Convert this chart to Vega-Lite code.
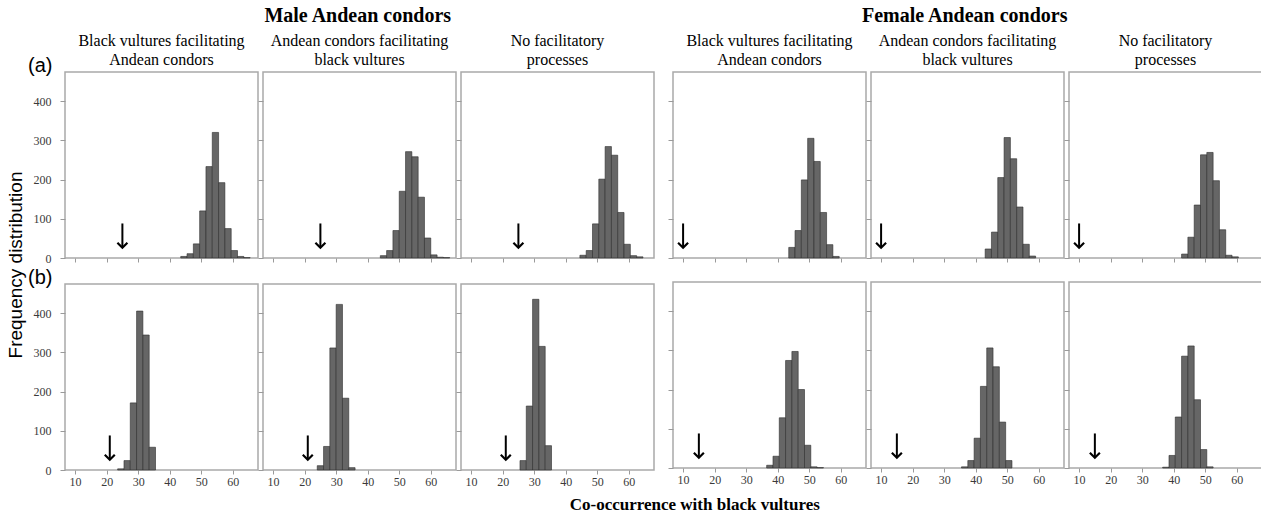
{
  "$schema": "https://vega.github.io/schema/vega-lite/v6.json",
  "background": "white",
  "padding": {"left": 6, "top": 6, "right": 0, "bottom": 0},
  "title": {"text": "Co-occurrence with black vultures", "orient": "bottom", "font": "Liberation Serif", "fontSize": 17, "fontWeight": "bold", "color": "black", "anchor": "middle", "dx": 60, "offset": 9},
  "spacing": 11,
  "datasets": {
    "hist": [
      {"panel": "a1", "x0": 43.5, "x1": 45.5, "count": 4},
      {"panel": "a1", "x0": 45.5, "x1": 47.5, "count": 11},
      {"panel": "a1", "x0": 47.5, "x1": 49.5, "count": 36},
      {"panel": "a1", "x0": 49.5, "x1": 51.5, "count": 120},
      {"panel": "a1", "x0": 51.5, "x1": 53.5, "count": 233},
      {"panel": "a1", "x0": 53.5, "x1": 55.5, "count": 320},
      {"panel": "a1", "x0": 55.5, "x1": 57.5, "count": 192},
      {"panel": "a1", "x0": 57.5, "x1": 59.5, "count": 75},
      {"panel": "a1", "x0": 59.5, "x1": 61.5, "count": 19},
      {"panel": "a1", "x0": 61.5, "x1": 63.5, "count": 4},
      {"panel": "a1", "x0": 63.5, "x1": 65.5, "count": 1},
      {"panel": "a2", "x0": 44, "x1": 46, "count": 6},
      {"panel": "a2", "x0": 46, "x1": 48, "count": 19},
      {"panel": "a2", "x0": 48, "x1": 50, "count": 70},
      {"panel": "a2", "x0": 50, "x1": 52, "count": 170},
      {"panel": "a2", "x0": 52, "x1": 54, "count": 271},
      {"panel": "a2", "x0": 54, "x1": 56, "count": 258},
      {"panel": "a2", "x0": 56, "x1": 58, "count": 155},
      {"panel": "a2", "x0": 58, "x1": 60, "count": 51},
      {"panel": "a2", "x0": 60, "x1": 62, "count": 8},
      {"panel": "a2", "x0": 62, "x1": 64, "count": 2},
      {"panel": "a2", "x0": 64, "x1": 66, "count": 1},
      {"panel": "a3", "x0": 44.5, "x1": 46.5, "count": 7},
      {"panel": "a3", "x0": 46.5, "x1": 48.5, "count": 19},
      {"panel": "a3", "x0": 48.5, "x1": 50.5, "count": 87},
      {"panel": "a3", "x0": 50.5, "x1": 52.5, "count": 201},
      {"panel": "a3", "x0": 52.5, "x1": 54.5, "count": 284},
      {"panel": "a3", "x0": 54.5, "x1": 56.5, "count": 262},
      {"panel": "a3", "x0": 56.5, "x1": 58.5, "count": 116},
      {"panel": "a3", "x0": 58.5, "x1": 60.5, "count": 35},
      {"panel": "a3", "x0": 60.5, "x1": 62.5, "count": 6},
      {"panel": "a3", "x0": 62.5, "x1": 64.5, "count": 3},
      {"panel": "a4", "x0": 43.5, "x1": 45.5, "count": 27},
      {"panel": "a4", "x0": 45.5, "x1": 47.5, "count": 70},
      {"panel": "a4", "x0": 47.5, "x1": 49.5, "count": 199},
      {"panel": "a4", "x0": 49.5, "x1": 51.5, "count": 305},
      {"panel": "a4", "x0": 51.5, "x1": 53.5, "count": 246},
      {"panel": "a4", "x0": 53.5, "x1": 55.5, "count": 116},
      {"panel": "a4", "x0": 55.5, "x1": 57.5, "count": 34},
      {"panel": "a4", "x0": 57.5, "x1": 59.5, "count": 4},
      {"panel": "a5", "x0": 43, "x1": 45, "count": 23},
      {"panel": "a5", "x0": 45, "x1": 47, "count": 66},
      {"panel": "a5", "x0": 47, "x1": 49, "count": 205},
      {"panel": "a5", "x0": 49, "x1": 51, "count": 307},
      {"panel": "a5", "x0": 51, "x1": 53, "count": 253},
      {"panel": "a5", "x0": 53, "x1": 55, "count": 130},
      {"panel": "a5", "x0": 55, "x1": 57, "count": 35},
      {"panel": "a5", "x0": 57, "x1": 59, "count": 5},
      {"panel": "a6", "x0": 42.5, "x1": 44.5, "count": 10},
      {"panel": "a6", "x0": 44.5, "x1": 46.5, "count": 53},
      {"panel": "a6", "x0": 46.5, "x1": 48.5, "count": 135},
      {"panel": "a6", "x0": 48.5, "x1": 50.5, "count": 263},
      {"panel": "a6", "x0": 50.5, "x1": 52.5, "count": 269},
      {"panel": "a6", "x0": 52.5, "x1": 54.5, "count": 197},
      {"panel": "a6", "x0": 54.5, "x1": 56.5, "count": 72},
      {"panel": "a6", "x0": 56.5, "x1": 58.5, "count": 7},
      {"panel": "a6", "x0": 58.5, "x1": 60.5, "count": 3},
      {"panel": "b1", "x0": 23.5, "x1": 25.5, "count": 3},
      {"panel": "b1", "x0": 25.5, "x1": 27.5, "count": 24},
      {"panel": "b1", "x0": 27.5, "x1": 29.5, "count": 171},
      {"panel": "b1", "x0": 29.5, "x1": 31.5, "count": 405},
      {"panel": "b1", "x0": 31.5, "x1": 33.5, "count": 344},
      {"panel": "b1", "x0": 33.5, "x1": 35.5, "count": 58},
      {"panel": "b2", "x0": 24, "x1": 26, "count": 11},
      {"panel": "b2", "x0": 26, "x1": 28, "count": 60},
      {"panel": "b2", "x0": 28, "x1": 30, "count": 311},
      {"panel": "b2", "x0": 30, "x1": 32, "count": 422},
      {"panel": "b2", "x0": 32, "x1": 34, "count": 183},
      {"panel": "b2", "x0": 34, "x1": 36, "count": 6},
      {"panel": "b3", "x0": 25.5, "x1": 27.5, "count": 24},
      {"panel": "b3", "x0": 27.5, "x1": 29.5, "count": 163},
      {"panel": "b3", "x0": 29.5, "x1": 31.5, "count": 435},
      {"panel": "b3", "x0": 31.5, "x1": 33.5, "count": 315},
      {"panel": "b3", "x0": 33.5, "x1": 35.5, "count": 62},
      {"panel": "b4", "x0": 36.5, "x1": 38.5, "count": 7},
      {"panel": "b4", "x0": 38.5, "x1": 40.5, "count": 30},
      {"panel": "b4", "x0": 40.5, "x1": 42.5, "count": 128},
      {"panel": "b4", "x0": 42.5, "x1": 44.5, "count": 274},
      {"panel": "b4", "x0": 44.5, "x1": 46.5, "count": 297},
      {"panel": "b4", "x0": 46.5, "x1": 48.5, "count": 200},
      {"panel": "b4", "x0": 48.5, "x1": 50.5, "count": 58},
      {"panel": "b4", "x0": 50.5, "x1": 52.5, "count": 3},
      {"panel": "b4", "x0": 52.5, "x1": 54.5, "count": 1},
      {"panel": "b5", "x0": 35.5, "x1": 37.5, "count": 3},
      {"panel": "b5", "x0": 37.5, "x1": 39.5, "count": 19},
      {"panel": "b5", "x0": 39.5, "x1": 41.5, "count": 76},
      {"panel": "b5", "x0": 41.5, "x1": 43.5, "count": 208},
      {"panel": "b5", "x0": 43.5, "x1": 45.5, "count": 306},
      {"panel": "b5", "x0": 45.5, "x1": 47.5, "count": 258},
      {"panel": "b5", "x0": 47.5, "x1": 49.5, "count": 117},
      {"panel": "b5", "x0": 49.5, "x1": 51.5, "count": 19},
      {"panel": "b6", "x0": 36.5, "x1": 38.5, "count": 2},
      {"panel": "b6", "x0": 38.5, "x1": 40.5, "count": 32},
      {"panel": "b6", "x0": 40.5, "x1": 42.5, "count": 130},
      {"panel": "b6", "x0": 42.5, "x1": 44.5, "count": 285},
      {"panel": "b6", "x0": 44.5, "x1": 46.5, "count": 311},
      {"panel": "b6", "x0": 46.5, "x1": 48.5, "count": 174},
      {"panel": "b6", "x0": 48.5, "x1": 50.5, "count": 47},
      {"panel": "b6", "x0": 50.5, "x1": 52.5, "count": 3}
    ],
    "arrows": [
      {"panel": "a1", "observed": 25},
      {"panel": "a2", "observed": 25},
      {"panel": "a3", "observed": 25},
      {"panel": "a4", "observed": 10},
      {"panel": "a5", "observed": 10},
      {"panel": "a6", "observed": 10},
      {"panel": "b1", "observed": 21},
      {"panel": "b2", "observed": 21},
      {"panel": "b3", "observed": 21},
      {"panel": "b4", "observed": 15},
      {"panel": "b5", "observed": 15},
      {"panel": "b6", "observed": 15}
    ]
  },
  "hconcat": [
    {
      "title": {"text": "Frequency distribution", "orient": "left", "font": "Liberation Sans", "fontSize": 19, "fontWeight": "normal", "color": "black", "anchor": "middle", "offset": 1, "dx": -18},
      "hconcat": [
        {
          "title": {"text": "Male Andean condors", "font": "Liberation Serif", "fontSize": 20, "fontWeight": "bold", "anchor": "middle", "offset": 6, "dx": 17},
          "spacing": 1,
          "vconcat": [
            {
              "spacing": -3,
              "hconcat": [
                {
                  "width": 193, "height": 186,
                  "title": {"text": ["Black vultures facilitating", "Andean condors"], "dy": 17},
                  "layer": [
                    {"data": {"name": "hist"}, "transform": [{"filter": "datum.panel === 'a1'"}], "mark": {"type": "bar", "fill": "#666666", "stroke": "#2e2e2e", "strokeWidth": 0.6},
                     "encoding": {
                       "x": {"field": "x0", "type": "quantitative", "scale": {"domain": [6.8, 68], "nice": false, "zero": false}, "axis": {"values": [10, 20, 30, 40, 50, 60], "title": null, "labels": false}},
                       "x2": {"field": "x1"},
                       "y": {"field": "count", "type": "quantitative", "scale": {"domain": [0, 474], "nice": false}, "axis": {"values": [0, 100, 200, 300, 400], "labels": true, "title": "(a)", "titleAngle": 0, "titleAlign": "right", "titleBaseline": "alphabetic", "titleX": -13, "titleY": -1, "titleFont": "Liberation Sans", "titleFontSize": 20, "titleFontWeight": "normal", "titleColor": "black"}},
                       "y2": {"datum": 0}
                     }},
                    {"data": {"name": "arrows"}, "transform": [{"filter": "datum.panel === 'a1'"}], "mark": {"type": "rule", "strokeWidth": 2, "color": "black"},
                     "encoding": {"x": {"field": "observed", "type": "quantitative", "axis": {"values": [10, 20, 30, 40, 50, 60], "title": null, "labels": false}}, "y": {"datum": 88}, "y2": {"datum": 27}}},
                    {"data": {"name": "arrows"}, "transform": [{"filter": "datum.panel === 'a1'"}], "mark": {"type": "point", "shape": "M-1,-1L0,0L1,-1", "size": 100, "filled": false, "stroke": "black", "strokeWidth": 2.2, "opacity": 1},
                     "encoding": {"x": {"field": "observed", "type": "quantitative", "axis": {"values": [10, 20, 30, 40, 50, 60], "title": null, "labels": false}}, "y": {"datum": 26}}}
                  ]
                },
                {
                  "width": 193, "height": 186,
                  "title": {"text": ["Andean condors facilitating", "black vultures"]},
                  "layer": [
                    {"data": {"name": "hist"}, "transform": [{"filter": "datum.panel === 'a2'"}], "mark": {"type": "bar", "fill": "#666666", "stroke": "#2e2e2e", "strokeWidth": 0.6},
                     "encoding": {
                       "x": {"field": "x0", "type": "quantitative", "scale": {"domain": [6.8, 68], "nice": false, "zero": false}, "axis": {"values": [10, 20, 30, 40, 50, 60], "title": null, "labels": false}},
                       "x2": {"field": "x1"},
                       "y": {"field": "count", "type": "quantitative", "scale": {"domain": [0, 474], "nice": false}, "axis": {"values": [0, 100, 200, 300, 400], "labels": false, "title": null}},
                       "y2": {"datum": 0}
                     }},
                    {"data": {"name": "arrows"}, "transform": [{"filter": "datum.panel === 'a2'"}], "mark": {"type": "rule", "strokeWidth": 2, "color": "black"},
                     "encoding": {"x": {"field": "observed", "type": "quantitative", "axis": {"values": [10, 20, 30, 40, 50, 60], "title": null, "labels": false}}, "y": {"datum": 88}, "y2": {"datum": 27}}},
                    {"data": {"name": "arrows"}, "transform": [{"filter": "datum.panel === 'a2'"}], "mark": {"type": "point", "shape": "M-1,-1L0,0L1,-1", "size": 100, "filled": false, "stroke": "black", "strokeWidth": 2.2, "opacity": 1},
                     "encoding": {"x": {"field": "observed", "type": "quantitative", "axis": {"values": [10, 20, 30, 40, 50, 60], "title": null, "labels": false}}, "y": {"datum": 26}}}
                  ]
                },
                {
                  "width": 193, "height": 186,
                  "title": {"text": ["No facilitatory", "processes"]},
                  "layer": [
                    {"data": {"name": "hist"}, "transform": [{"filter": "datum.panel === 'a3'"}], "mark": {"type": "bar", "fill": "#666666", "stroke": "#2e2e2e", "strokeWidth": 0.6},
                     "encoding": {
                       "x": {"field": "x0", "type": "quantitative", "scale": {"domain": [6.8, 68], "nice": false, "zero": false}, "axis": {"values": [10, 20, 30, 40, 50, 60], "title": null, "labels": false}},
                       "x2": {"field": "x1"},
                       "y": {"field": "count", "type": "quantitative", "scale": {"domain": [0, 474], "nice": false}, "axis": {"values": [0, 100, 200, 300, 400], "labels": false, "title": null}},
                       "y2": {"datum": 0}
                     }},
                    {"data": {"name": "arrows"}, "transform": [{"filter": "datum.panel === 'a3'"}], "mark": {"type": "rule", "strokeWidth": 2, "color": "black"},
                     "encoding": {"x": {"field": "observed", "type": "quantitative", "axis": {"values": [10, 20, 30, 40, 50, 60], "title": null, "labels": false}}, "y": {"datum": 88}, "y2": {"datum": 27}}},
                    {"data": {"name": "arrows"}, "transform": [{"filter": "datum.panel === 'a3'"}], "mark": {"type": "point", "shape": "M-1,-1L0,0L1,-1", "size": 100, "filled": false, "stroke": "black", "strokeWidth": 2.2, "opacity": 1},
                     "encoding": {"x": {"field": "observed", "type": "quantitative", "axis": {"values": [10, 20, 30, 40, 50, 60], "title": null, "labels": false}}, "y": {"datum": 26}}}
                  ]
                }
              ]
            },
            {
              "spacing": -3,
              "hconcat": [
                {
                  "width": 193, "height": 186,
                  "layer": [
                    {"data": {"name": "hist"}, "transform": [{"filter": "datum.panel === 'b1'"}], "mark": {"type": "bar", "fill": "#666666", "stroke": "#2e2e2e", "strokeWidth": 0.6},
                     "encoding": {
                       "x": {"field": "x0", "type": "quantitative", "scale": {"domain": [6.8, 68], "nice": false, "zero": false}, "axis": {"values": [10, 20, 30, 40, 50, 60], "title": null, "labels": true, "labelOverlap": false, "labelFlush": false, "labelBound": false}},
                       "x2": {"field": "x1"},
                       "y": {"field": "count", "type": "quantitative", "scale": {"domain": [0, 474], "nice": false}, "axis": {"values": [0, 100, 200, 300, 400], "labels": true, "title": "(b)", "titleAngle": 0, "titleAlign": "right", "titleBaseline": "alphabetic", "titleX": -13, "titleY": -1, "titleFont": "Liberation Sans", "titleFontSize": 20, "titleFontWeight": "normal", "titleColor": "black"}},
                       "y2": {"datum": 0}
                     }},
                    {"data": {"name": "arrows"}, "transform": [{"filter": "datum.panel === 'b1'"}], "mark": {"type": "rule", "strokeWidth": 2, "color": "black"},
                     "encoding": {"x": {"field": "observed", "type": "quantitative", "axis": {"values": [10, 20, 30, 40, 50, 60], "title": null, "labels": true, "labelOverlap": false, "labelFlush": false, "labelBound": false}}, "y": {"datum": 88}, "y2": {"datum": 27}}},
                    {"data": {"name": "arrows"}, "transform": [{"filter": "datum.panel === 'b1'"}], "mark": {"type": "point", "shape": "M-1,-1L0,0L1,-1", "size": 100, "filled": false, "stroke": "black", "strokeWidth": 2.2, "opacity": 1},
                     "encoding": {"x": {"field": "observed", "type": "quantitative", "axis": {"values": [10, 20, 30, 40, 50, 60], "title": null, "labels": true, "labelOverlap": false, "labelFlush": false, "labelBound": false}}, "y": {"datum": 26}}}
                  ]
                },
                {
                  "width": 193, "height": 186,
                  "layer": [
                    {"data": {"name": "hist"}, "transform": [{"filter": "datum.panel === 'b2'"}], "mark": {"type": "bar", "fill": "#666666", "stroke": "#2e2e2e", "strokeWidth": 0.6},
                     "encoding": {
                       "x": {"field": "x0", "type": "quantitative", "scale": {"domain": [6.8, 68], "nice": false, "zero": false}, "axis": {"values": [10, 20, 30, 40, 50, 60], "title": null, "labels": true, "labelOverlap": false, "labelFlush": false, "labelBound": false}},
                       "x2": {"field": "x1"},
                       "y": {"field": "count", "type": "quantitative", "scale": {"domain": [0, 474], "nice": false}, "axis": {"values": [0, 100, 200, 300, 400], "labels": false, "title": null}},
                       "y2": {"datum": 0}
                     }},
                    {"data": {"name": "arrows"}, "transform": [{"filter": "datum.panel === 'b2'"}], "mark": {"type": "rule", "strokeWidth": 2, "color": "black"},
                     "encoding": {"x": {"field": "observed", "type": "quantitative", "axis": {"values": [10, 20, 30, 40, 50, 60], "title": null, "labels": true, "labelOverlap": false, "labelFlush": false, "labelBound": false}}, "y": {"datum": 88}, "y2": {"datum": 27}}},
                    {"data": {"name": "arrows"}, "transform": [{"filter": "datum.panel === 'b2'"}], "mark": {"type": "point", "shape": "M-1,-1L0,0L1,-1", "size": 100, "filled": false, "stroke": "black", "strokeWidth": 2.2, "opacity": 1},
                     "encoding": {"x": {"field": "observed", "type": "quantitative", "axis": {"values": [10, 20, 30, 40, 50, 60], "title": null, "labels": true, "labelOverlap": false, "labelFlush": false, "labelBound": false}}, "y": {"datum": 26}}}
                  ]
                },
                {
                  "width": 193, "height": 186,
                  "layer": [
                    {"data": {"name": "hist"}, "transform": [{"filter": "datum.panel === 'b3'"}], "mark": {"type": "bar", "fill": "#666666", "stroke": "#2e2e2e", "strokeWidth": 0.6},
                     "encoding": {
                       "x": {"field": "x0", "type": "quantitative", "scale": {"domain": [6.8, 68], "nice": false, "zero": false}, "axis": {"values": [10, 20, 30, 40, 50, 60], "title": null, "labels": true, "labelOverlap": false, "labelFlush": false, "labelBound": false}},
                       "x2": {"field": "x1"},
                       "y": {"field": "count", "type": "quantitative", "scale": {"domain": [0, 474], "nice": false}, "axis": {"values": [0, 100, 200, 300, 400], "labels": false, "title": null}},
                       "y2": {"datum": 0}
                     }},
                    {"data": {"name": "arrows"}, "transform": [{"filter": "datum.panel === 'b3'"}], "mark": {"type": "rule", "strokeWidth": 2, "color": "black"},
                     "encoding": {"x": {"field": "observed", "type": "quantitative", "axis": {"values": [10, 20, 30, 40, 50, 60], "title": null, "labels": true, "labelOverlap": false, "labelFlush": false, "labelBound": false}}, "y": {"datum": 88}, "y2": {"datum": 27}}},
                    {"data": {"name": "arrows"}, "transform": [{"filter": "datum.panel === 'b3'"}], "mark": {"type": "point", "shape": "M-1,-1L0,0L1,-1", "size": 100, "filled": false, "stroke": "black", "strokeWidth": 2.2, "opacity": 1},
                     "encoding": {"x": {"field": "observed", "type": "quantitative", "axis": {"values": [10, 20, 30, 40, 50, 60], "title": null, "labels": true, "labelOverlap": false, "labelFlush": false, "labelBound": false}}, "y": {"datum": 26}}}
                  ]
                }
              ]
            }
          ]
        }
      ]
    },
    {
      "title": {"text": "Female Andean condors", "font": "Liberation Serif", "fontSize": 20, "fontWeight": "bold", "anchor": "middle", "offset": 6},
      "spacing": 17,
      "vconcat": [
        {
          "spacing": -3,
          "hconcat": [
            {
              "width": 193, "height": 186,
              "title": {"text": ["Black vultures facilitating", "Andean condors"]},
              "layer": [
                {"data": {"name": "hist"}, "transform": [{"filter": "datum.panel === 'a4'"}], "mark": {"type": "bar", "fill": "#666666", "stroke": "#2e2e2e", "strokeWidth": 0.6},
                 "encoding": {
                   "x": {"field": "x0", "type": "quantitative", "scale": {"domain": [6.8, 68], "nice": false, "zero": false}, "axis": {"values": [10, 20, 30, 40, 50, 60], "title": null, "labels": false}},
                   "x2": {"field": "x1"},
                   "y": {"field": "count", "type": "quantitative", "scale": {"domain": [0, 474], "nice": false}, "axis": {"values": [0, 100, 200, 300, 400], "labels": false, "title": null}},
                   "y2": {"datum": 0}
                 }},
                {"data": {"name": "arrows"}, "transform": [{"filter": "datum.panel === 'a4'"}], "mark": {"type": "rule", "strokeWidth": 2, "color": "black"},
                 "encoding": {"x": {"field": "observed", "type": "quantitative", "axis": {"values": [10, 20, 30, 40, 50, 60], "title": null, "labels": false}}, "y": {"datum": 88}, "y2": {"datum": 27}}},
                {"data": {"name": "arrows"}, "transform": [{"filter": "datum.panel === 'a4'"}], "mark": {"type": "point", "shape": "M-1,-1L0,0L1,-1", "size": 100, "filled": false, "stroke": "black", "strokeWidth": 2.2, "opacity": 1},
                 "encoding": {"x": {"field": "observed", "type": "quantitative", "axis": {"values": [10, 20, 30, 40, 50, 60], "title": null, "labels": false}}, "y": {"datum": 26}}}
              ]
            },
            {
              "width": 193, "height": 186,
              "title": {"text": ["Andean condors facilitating", "black vultures"]},
              "layer": [
                {"data": {"name": "hist"}, "transform": [{"filter": "datum.panel === 'a5'"}], "mark": {"type": "bar", "fill": "#666666", "stroke": "#2e2e2e", "strokeWidth": 0.6},
                 "encoding": {
                   "x": {"field": "x0", "type": "quantitative", "scale": {"domain": [6.8, 68], "nice": false, "zero": false}, "axis": {"values": [10, 20, 30, 40, 50, 60], "title": null, "labels": false}},
                   "x2": {"field": "x1"},
                   "y": {"field": "count", "type": "quantitative", "scale": {"domain": [0, 474], "nice": false}, "axis": {"values": [0, 100, 200, 300, 400], "labels": false, "title": null}},
                   "y2": {"datum": 0}
                 }},
                {"data": {"name": "arrows"}, "transform": [{"filter": "datum.panel === 'a5'"}], "mark": {"type": "rule", "strokeWidth": 2, "color": "black"},
                 "encoding": {"x": {"field": "observed", "type": "quantitative", "axis": {"values": [10, 20, 30, 40, 50, 60], "title": null, "labels": false}}, "y": {"datum": 88}, "y2": {"datum": 27}}},
                {"data": {"name": "arrows"}, "transform": [{"filter": "datum.panel === 'a5'"}], "mark": {"type": "point", "shape": "M-1,-1L0,0L1,-1", "size": 100, "filled": false, "stroke": "black", "strokeWidth": 2.2, "opacity": 1},
                 "encoding": {"x": {"field": "observed", "type": "quantitative", "axis": {"values": [10, 20, 30, 40, 50, 60], "title": null, "labels": false}}, "y": {"datum": 26}}}
              ]
            },
            {
              "width": 193, "height": 186,
              "title": {"text": ["No facilitatory", "processes"]},
              "layer": [
                {"data": {"name": "hist"}, "transform": [{"filter": "datum.panel === 'a6'"}], "mark": {"type": "bar", "fill": "#666666", "stroke": "#2e2e2e", "strokeWidth": 0.6},
                 "encoding": {
                   "x": {"field": "x0", "type": "quantitative", "scale": {"domain": [6.8, 68], "nice": false, "zero": false}, "axis": {"values": [10, 20, 30, 40, 50, 60], "title": null, "labels": false}},
                   "x2": {"field": "x1"},
                   "y": {"field": "count", "type": "quantitative", "scale": {"domain": [0, 474], "nice": false}, "axis": {"values": [0, 100, 200, 300, 400], "labels": false, "title": null}},
                   "y2": {"datum": 0}
                 }},
                {"data": {"name": "arrows"}, "transform": [{"filter": "datum.panel === 'a6'"}], "mark": {"type": "rule", "strokeWidth": 2, "color": "black"},
                 "encoding": {"x": {"field": "observed", "type": "quantitative", "axis": {"values": [10, 20, 30, 40, 50, 60], "title": null, "labels": false}}, "y": {"datum": 88}, "y2": {"datum": 27}}},
                {"data": {"name": "arrows"}, "transform": [{"filter": "datum.panel === 'a6'"}], "mark": {"type": "point", "shape": "M-1,-1L0,0L1,-1", "size": 100, "filled": false, "stroke": "black", "strokeWidth": 2.2, "opacity": 1},
                 "encoding": {"x": {"field": "observed", "type": "quantitative", "axis": {"values": [10, 20, 30, 40, 50, 60], "title": null, "labels": false}}, "y": {"datum": 26}}}
              ]
            }
          ]
        },
        {
          "spacing": -3,
          "hconcat": [
            {
              "width": 193, "height": 186,
              "layer": [
                {"data": {"name": "hist"}, "transform": [{"filter": "datum.panel === 'b4'"}], "mark": {"type": "bar", "fill": "#666666", "stroke": "#2e2e2e", "strokeWidth": 0.6},
                 "encoding": {
                   "x": {"field": "x0", "type": "quantitative", "scale": {"domain": [6.8, 68], "nice": false, "zero": false}, "axis": {"values": [10, 20, 30, 40, 50, 60], "title": null, "labels": true, "labelOverlap": false, "labelFlush": false, "labelBound": false}},
                   "x2": {"field": "x1"},
                   "y": {"field": "count", "type": "quantitative", "scale": {"domain": [0, 474], "nice": false}, "axis": {"values": [0, 100, 200, 300, 400], "labels": false, "title": null}},
                   "y2": {"datum": 0}
                 }},
                {"data": {"name": "arrows"}, "transform": [{"filter": "datum.panel === 'b4'"}], "mark": {"type": "rule", "strokeWidth": 2, "color": "black"},
                 "encoding": {"x": {"field": "observed", "type": "quantitative", "axis": {"values": [10, 20, 30, 40, 50, 60], "title": null, "labels": true, "labelOverlap": false, "labelFlush": false, "labelBound": false}}, "y": {"datum": 88}, "y2": {"datum": 27}}},
                {"data": {"name": "arrows"}, "transform": [{"filter": "datum.panel === 'b4'"}], "mark": {"type": "point", "shape": "M-1,-1L0,0L1,-1", "size": 100, "filled": false, "stroke": "black", "strokeWidth": 2.2, "opacity": 1},
                 "encoding": {"x": {"field": "observed", "type": "quantitative", "axis": {"values": [10, 20, 30, 40, 50, 60], "title": null, "labels": true, "labelOverlap": false, "labelFlush": false, "labelBound": false}}, "y": {"datum": 26}}}
              ]
            },
            {
              "width": 193, "height": 186,
              "layer": [
                {"data": {"name": "hist"}, "transform": [{"filter": "datum.panel === 'b5'"}], "mark": {"type": "bar", "fill": "#666666", "stroke": "#2e2e2e", "strokeWidth": 0.6},
                 "encoding": {
                   "x": {"field": "x0", "type": "quantitative", "scale": {"domain": [6.8, 68], "nice": false, "zero": false}, "axis": {"values": [10, 20, 30, 40, 50, 60], "title": null, "labels": true, "labelOverlap": false, "labelFlush": false, "labelBound": false}},
                   "x2": {"field": "x1"},
                   "y": {"field": "count", "type": "quantitative", "scale": {"domain": [0, 474], "nice": false}, "axis": {"values": [0, 100, 200, 300, 400], "labels": false, "title": null}},
                   "y2": {"datum": 0}
                 }},
                {"data": {"name": "arrows"}, "transform": [{"filter": "datum.panel === 'b5'"}], "mark": {"type": "rule", "strokeWidth": 2, "color": "black"},
                 "encoding": {"x": {"field": "observed", "type": "quantitative", "axis": {"values": [10, 20, 30, 40, 50, 60], "title": null, "labels": true, "labelOverlap": false, "labelFlush": false, "labelBound": false}}, "y": {"datum": 88}, "y2": {"datum": 27}}},
                {"data": {"name": "arrows"}, "transform": [{"filter": "datum.panel === 'b5'"}], "mark": {"type": "point", "shape": "M-1,-1L0,0L1,-1", "size": 100, "filled": false, "stroke": "black", "strokeWidth": 2.2, "opacity": 1},
                 "encoding": {"x": {"field": "observed", "type": "quantitative", "axis": {"values": [10, 20, 30, 40, 50, 60], "title": null, "labels": true, "labelOverlap": false, "labelFlush": false, "labelBound": false}}, "y": {"datum": 26}}}
              ]
            },
            {
              "width": 193, "height": 186,
              "layer": [
                {"data": {"name": "hist"}, "transform": [{"filter": "datum.panel === 'b6'"}], "mark": {"type": "bar", "fill": "#666666", "stroke": "#2e2e2e", "strokeWidth": 0.6},
                 "encoding": {
                   "x": {"field": "x0", "type": "quantitative", "scale": {"domain": [6.8, 68], "nice": false, "zero": false}, "axis": {"values": [10, 20, 30, 40, 50, 60], "title": null, "labels": true, "labelOverlap": false, "labelFlush": false, "labelBound": false}},
                   "x2": {"field": "x1"},
                   "y": {"field": "count", "type": "quantitative", "scale": {"domain": [0, 474], "nice": false}, "axis": {"values": [0, 100, 200, 300, 400], "labels": false, "title": null}},
                   "y2": {"datum": 0}
                 }},
                {"data": {"name": "arrows"}, "transform": [{"filter": "datum.panel === 'b6'"}], "mark": {"type": "rule", "strokeWidth": 2, "color": "black"},
                 "encoding": {"x": {"field": "observed", "type": "quantitative", "axis": {"values": [10, 20, 30, 40, 50, 60], "title": null, "labels": true, "labelOverlap": false, "labelFlush": false, "labelBound": false}}, "y": {"datum": 88}, "y2": {"datum": 27}}},
                {"data": {"name": "arrows"}, "transform": [{"filter": "datum.panel === 'b6'"}], "mark": {"type": "point", "shape": "M-1,-1L0,0L1,-1", "size": 100, "filled": false, "stroke": "black", "strokeWidth": 2.2, "opacity": 1},
                 "encoding": {"x": {"field": "observed", "type": "quantitative", "axis": {"values": [10, 20, 30, 40, 50, 60], "title": null, "labels": true, "labelOverlap": false, "labelFlush": false, "labelBound": false}}, "y": {"datum": 26}}}
              ]
            }
          ]
        }
      ]
    }
  ],
  "config": {
    "font": "Liberation Serif",
    "view": {"stroke": "#a9a9a9", "strokeWidth": 1.5},
    "title": {"font": "Liberation Serif", "fontSize": 16, "fontWeight": "normal", "color": "black", "lineHeight": 19, "offset": 4, "anchor": "middle"},
    "axis": {"grid": false, "domain": false, "tickColor": "#9a9a9a", "labelFont": "Liberation Serif", "labelFontSize": 12, "labelColor": "#3a3a3a"},
    "axisX": {"tickSize": 4, "labelPadding": 2},
    "axisY": {"tickSize": 5, "labelPadding": 9}
  }
}
